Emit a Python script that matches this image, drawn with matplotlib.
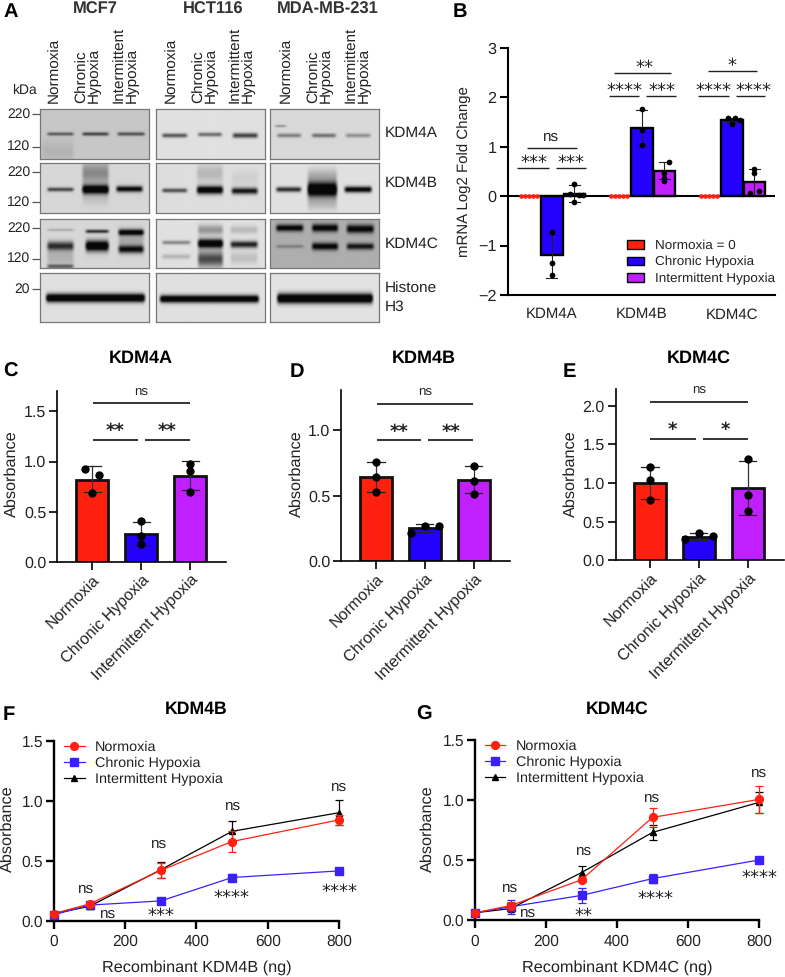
import matplotlib
matplotlib.use("Agg")
import matplotlib.pyplot as plt
from matplotlib.lines import Line2D
from matplotlib.patches import Patch
import numpy as np

plt.rcParams['font.family'] = ['Liberation Sans', 'DejaVu Sans']
plt.rcParams['text.hinting'] = 'none'

W, H = 785, 977
RED = '#ff2010'
BLUE = '#2400ff'
PURPLE = '#c020ff'
LINE_BLUE = '#3a20ff'

# ---- panel A blots: (x0, x1, y, thickness, darkness) as fractions of a panel
blot_x = [(39.5, 148.7), (156, 265), (270, 379)]
blot_y = [(109, 158.7), (163, 213), (218.7, 267.7), (273, 322)]
blot_bg = [[0.78, 0.88, 0.85], [0.84, 0.87, 0.88], [0.84, 0.88, 0.68], [0.88, 0.88, 0.89]]
blot_bands = [
    [
        [(.05, .32, .50, .032, .6), (.37, .64, .50, .035, .72), (.69, .97, .50, .035, .65),
         (.0, .32, .85, .22, .1)],
        [(.04, .30, .53, .042, .65), (.37, .62, .51, .04, .55), (.69, .95, .53, .05, .75)],
        [(.05, .30, .53, .04, .45), (.37, .62, .53, .04, .52), (.68, .94, .53, .04, .36),
         (.03, .16, .34, .022, .38)],
    ],
    [
        [(.05, .32, .53, .04, .72), (.37, .64, .53, .09, 1.3), (.37, .64, .2, .22, .38),
         (.68, .95, .52, .06, 1.05), (.37, .64, .72, .12, .1)],
        [(.04, .30, .55, .042, .68), (.36, .63, .54, .08, 1.2), (.36, .63, .2, .18, .18),
         (.68, .95, .56, .065, .95), (.68, .95, .3, .15, .07)],
        [(.04, .30, .53, .05, .85), (.33, .63, .53, .15, 1.4), (.33, .63, .25, .14, .22),
         (.33, .63, .82, .12, .18), (.67, .95, .53, .06, 1.1)],
    ],
    [
        [(.05, .32, .55, .09, .8), (.05, .32, .22, .025, .22), (.05, .32, .97, .04, .55),
         (.05, .32, .78, .2, .18), (.40, .64, .25, .035, .85), (.40, .64, .55, .11, 1.3),
         (.70, .96, .27, .06, 1.1), (.70, .96, .62, .08, .95), (.70, .96, .42, .2, .22)],
        [(.04, .33, .48, .04, .42), (.04, .33, .77, .05, .2),
         (.37, .63, .50, .09, 1.3), (.37, .63, .22, .10, .35), (.37, .63, .82, .16, .7),
         (.67, .95, .52, .07, .9), (.67, .95, .22, .08, .18), (.67, .95, .8, .12, .15)],
        [(.04, .32, .18, .07, 1.1), (.04, .32, .56, .035, .3),
         (.37, .64, .18, .08, 1.1), (.37, .64, .56, .075, 1.1),
         (.69, .97, .20, .085, 1.1), (.69, .97, .56, .065, .95)],
    ],
    [
        [(.04, .97, .51, .085, 1.4)],
        [(.02, .96, .53, .075, 1.3)],
        [(.05, .96, .52, .10, 1.4)],
    ],
]
lane_names = ['Normoxia', 'Chronic\nHypoxia', 'Intermittent\nHypoxia']
lane_x = [[55, 88, 126], [171.7, 205, 242], [287, 320, 357.7]]
cell_lines = ['MCF7', 'HCT116', 'MDA-MB-231']
cell_line_x = [95, 213, 327.7]
marker_labels = ['220', '120', '220', '120', '220', '120', '20']
marker_y = [114, 146.7, 172, 202, 228, 258.7, 289]
blot_names = ['KDM4A', 'KDM4B', 'KDM4C', 'Histone\nH3']
blot_name_y = [132.7, 183, 244, 298]

# ---- panel B
genes = ['KDM4A', 'KDM4B', 'KDM4C']
b_chronic = [-1.2, 1.38, 1.54]
b_chronic_err = [(-1.65, -0.79), (1.03, 1.75), (1.50, 1.58)]
b_chronic_pts = [[-0.73, -1.35, -1.60], [1.76, 1.35, 1.03], [1.58, 1.58, 1.47, 1.55]]
b_chronic_off = [[0, 0, 0], [0, 0, 0], [-.04, .04, 0, .09]]
b_inter = [0.04, 0.51, 0.29]
b_inter_err = [(-0.12, 0.23), (0.35, 0.69), (0.03, 0.55)]
b_inter_pts = [[0.25, 0.05, 0.03, 0.03, -0.12], [0.69, 0.47, 0.36, 0.31], [0.55, 0.47, 0.07, 0.10]]
b_inter_off = [[0, -.05, .05, .10, 0], [.05, 0, 0, 0], [0, 0, -.05, .05]]
b_normoxia_off = [-.09, -.045, 0, .045, .09]

# ---- panels C, D, E
conditions = ['Normoxia', 'Chronic Hypoxia', 'Intermittent Hypoxia']
bar_colors = [RED, BLUE, PURPLE]
c_means = [0.82, 0.28, 0.86]
c_err = [(0.70, 0.96), (0.17, 0.40), (0.72, 1.01)]
c_pts = [[0.93, 0.87, 0.69], [0.41, 0.26, 0.18], [0.98, 0.91, 0.70]]
c_off = [[-.14, .14, 0], [0, 0, 0], [0, 0, 0]]
d_means = [0.64, 0.25, 0.62]
d_err = [(0.53, 0.76), (0.22, 0.28), (0.52, 0.725)]
d_pts = [[0.76, 0.64, 0.53], [0.215, 0.27, 0.27], [0.725, 0.615, 0.515]]
d_off = [[0, 0, 0], [-.28, 0, .28], [0, 0, 0]]
e_means = [1.00, 0.30, 0.93]
e_err = [(0.79, 1.21), (0.26, 0.35), (0.59, 1.28)]
e_pts = [[1.21, 1.04, 0.78], [0.27, 0.35, 0.31], [1.31, 0.85, 0.64]]
e_off = [[0, 0, 0], [-.28, 0, .28], [0, 0, 0]]

# ---- panels F, G
ng = [0, 100, 300, 500, 800]
f_normoxia = [0.06, 0.14, 0.42, 0.66, 0.84]
f_normoxia_err = [0.01, 0.02, 0.06, 0.09, 0.04]
f_chronic = [0.05, 0.13, 0.165, 0.36, 0.415]
f_chronic_err = [0.01, 0.01, 0.02, 0.03, 0.01]
f_inter = [0.06, 0.12, 0.425, 0.745, 0.90]
f_inter_err = [0.01, 0.02, 0.065, 0.09, 0.105]
g_normoxia = [0.06, 0.12, 0.335, 0.855, 1.005]
g_normoxia_err = [0.01, 0.03, 0.02, 0.08, 0.11]
g_chronic = [0.06, 0.11, 0.205, 0.345, 0.50]
g_chronic_err = [0.01, 0.06, 0.06, 0.04, 0.01]
g_inter = [0.06, 0.095, 0.395, 0.73, 0.98]
g_inter_err = [0.01, 0.02, 0.055, 0.06, 0.085]

fig = plt.figure(figsize=(W / 100, H / 100), dpi=100)


# axes placed by pixel box of the reference
def add_ax(left, right, top, bottom):
    return fig.add_axes([left / W, 1 - bottom / H, (right - left) / W, (bottom - top) / H])


def txt(x, y, s, size=11, **kw):
    kw.setdefault('ha', 'center')
    kw.setdefault('va', 'center')
    return fig.text(x / W, 1 - y / H, s, fontsize=size, **kw)


def hline(x0, x1, y, lw=1.0, color='#222222'):
    fig.add_artist(Line2D([x0 / W, x1 / W], [1 - y / H, 1 - y / H], color=color, lw=lw,
                          solid_capstyle='butt'))


# asterisks are drawn with DejaVu, they sit high in the line so shift down a bit
def stars(x, y, s, bold=False):
    txt(x, y + 3, s, size=13, family='DejaVu Sans', color='#222222',
        fontweight='bold' if bold else 'normal')


def draw_blot(left, right, top, bottom, bands, bg):
    ax = add_ax(left, right, top, bottom)
    h, w = 100, 220
    yy = np.linspace(0, 1, h)[:, None]
    xx = np.linspace(0, 1, w)[None, :]
    dark = np.zeros((h, w))
    for x0, x1, y, t, d in bands:
        edge = np.clip((xx - x0) / .035, 0, 1) * np.clip((x1 - xx) / .035, 0, 1)
        dark = dark + d * np.exp(-((yy - y) / t) ** 2) * edge
    img = bg * (1 - np.clip(dark, 0, 1)) + 0.03 * np.clip(dark, 0, 1)
    ax.imshow(img, cmap='gray', vmin=0, vmax=1, aspect='auto', interpolation='bicubic')
    ax.set_xticks([])
    ax.set_yticks([])
    for s in ax.spines.values():
        s.set_color('#777777')
        s.set_linewidth(0.9)


# ---- A
for r, (top, bottom) in enumerate(blot_y):
    for c, (left, right) in enumerate(blot_x):
        draw_blot(left, right, top, bottom, blot_bands[r][c], blot_bg[r][c])
for name, x in zip(cell_lines, cell_line_x):
    txt(x, 9, name, size=11.9, fontweight='bold', color='#333333')
for xs in lane_x:
    for name, x in zip(lane_names, xs):
        txt(x, 103, name, size=11, rotation=90, va='bottom', linespacing=0.85,
            color='#222222', multialignment='left')
txt(24, 90.5, 'kDa', size=10, color='#222222')
for label, y in zip(marker_labels, marker_y):
    txt(30, y, label, size=10, ha='right', color='#222222')
    hline(32, 39.5, y, lw=0.9, color='#555555')
for name, y in zip(blot_names, blot_name_y):
    txt(385, y, name, size=11.1, ha='left', color='#222222', linespacing=1.35)

# panel letters
for letter, x, y in [('A', 3, 12), ('B', 453, 12), ('C', 3, 372), ('D', 290, 372), ('E', 563, 372),
                     ('F', 3, 715), ('G', 416, 715)]:
    txt(x, y, letter, size=14.5, fontweight='bold', ha='left')

# ---- B
ax = add_ax(507.7, 775, 48, 295)
ax.set_xlim(-0.49, 2.48)
ax.set_ylim(-2, 3)
for i in range(3):
    ax.bar(i - .25, 0, width=.24, color=RED)
    ax.scatter(np.full(5, i - .25) + np.array(b_normoxia_off), np.zeros(5), s=11, color=RED,
               zorder=5, clip_on=False, linewidths=0)
    ax.bar(i, b_chronic[i], width=.24, color=BLUE, edgecolor='black', linewidth=1.7, zorder=2)
    ax.bar(i + .25, b_inter[i], width=.24, color=PURPLE, edgecolor='black', linewidth=1.7, zorder=2)
    for xpos, (lo, hi) in [(i, b_chronic_err[i]), (i + .25, b_inter_err[i])]:
        ax.plot([xpos, xpos], [lo, hi], color='#222222', lw=0.8, zorder=3)
        for v in (lo, hi):
            ax.plot([xpos - .06, xpos + .06], [v, v], color='#222222', lw=0.8, zorder=3)
    ax.scatter(i + np.array(b_chronic_off[i]), b_chronic_pts[i], s=17, color='black', zorder=4,
               clip_on=False, linewidths=0)
    ax.scatter(i + .25 + np.array(b_inter_off[i]), b_inter_pts[i], s=17, color='black', zorder=4,
               clip_on=False, linewidths=0)
ax.axhline(0, color='black', lw=1.5, zorder=3)
for s in ['top', 'right']:
    ax.spines[s].set_visible(False)
for s in ['left', 'bottom']:
    ax.spines[s].set_linewidth(1.5)
ax.set_xticks(range(3))
ax.set_xticklabels(genes, fontsize=10.8, color='#222222')
ax.tick_params(axis='x', length=0, pad=9)
ax.set_yticks([-2, -1, 0, 1, 2, 3])
ax.tick_params(axis='y', length=6, width=1.5, labelsize=11.7, pad=2, labelcolor='#222222')
txt(464.5, 172, 'mRNA Log2 Fold Change', size=10.8, rotation=90, color='#222222')
ax.legend(handles=[Patch(facecolor=c, edgecolor='black', linewidth=1.0) for c in bar_colors],
          labels=['Normoxia = 0', 'Chronic Hypoxia', 'Intermittent Hypoxia'],
          loc='lower left', bbox_to_anchor=((627 - 507.7) / 267.3, (295 - 285) / 247),
          frameon=False, fontsize=9.7, borderpad=0, borderaxespad=0, handlelength=1.27,
          handleheight=0.57, handletextpad=0.8, labelspacing=0.33, labelcolor='#222222')

# significance for B
for x0, x1, y in [(526.7, 576.7, 148.3), (517, 549, 168.3), (555.7, 586, 168.3),
                  (614, 671, 73.3), (608.7, 639, 96.3), (645.7, 675.7, 96.3),
                  (707.7, 757, 71.3), (698.3, 728.7, 96.3), (735.7, 765, 96.3)]:
    hline(x0, x1, y)
txt(551, 136.7, 'ns', size=11, color='#222222')
for x, y, s in [(534, 160, '***'), (570.7, 160, '***'), (644, 65, '**'), (624, 87.7, '****'),
                (661.7, 87.7, '***'), (732, 62.7, '*'), (713.3, 87.7, '****'), (753.3, 87.7, '****')]:
    stars(x, y, s)


# ---- C, D, E
def bar_panel(box, ymax, yticks, means, errs, pts, offs, title, title_x, ylabel_x):
    left, right, top, bottom, x0, step = box
    ax = add_ax(left, right, top, bottom)
    ax.set_xlim((left - x0) / step, (right - x0) / step)
    ax.set_ylim(0, ymax)
    for i in range(3):
        ax.bar(i, means[i], width=.65, color=bar_colors[i], edgecolor='#111111', linewidth=2.0, zorder=2)
        lo, hi = errs[i]
        ax.plot([i, i], [lo, hi], color='#333333', lw=0.9, zorder=3, clip_on=False)
        for v in (lo, hi):
            ax.plot([i - .175, i + .175], [v, v], color='#222222', lw=0.9, zorder=3, clip_on=False)
        ax.scatter(i + np.array(offs[i]), pts[i], s=36, color='black', zorder=4, clip_on=False, linewidths=0)
    for s in ['top', 'right']:
        ax.spines[s].set_visible(False)
    for s in ['left', 'bottom']:
        ax.spines[s].set_linewidth(1.2)
    ax.set_yticks(yticks)
    ax.set_yticklabels([f'{v:.1f}' for v in yticks])
    ax.set_xticks(range(3))
    ax.set_xticklabels(conditions, rotation=45, ha='right', rotation_mode='anchor', fontsize=11.5,
                       color='#222222')
    ax.tick_params(axis='y', length=6, width=1.2, labelsize=11.5, pad=2, labelcolor='#222222')
    ax.tick_params(axis='x', length=6, width=1.2, pad=1.5)
    txt(ylabel_x, 474, 'Absorbance', size=11.7, rotation=90, color='#222222')
    txt(title_x, 358, title, size=13, fontweight='bold')
    return ax


bar_panel((57.3, 226, 390.7, 561.7, 92.3, 49), 1.707, [0, 0.5, 1.0, 1.5],
          c_means, c_err, c_pts, c_off, 'KDM4A', 141, 12)
bar_panel((341.3, 510, 390, 561, 376, 48.85), 1.308, [0, 0.5, 1.0],
          d_means, d_err, d_pts, d_off, 'KDM4B', 424, 297)
bar_panel((615.7, 784, 389.3, 560.3, 650, 48.85), 2.21, [0, 0.5, 1.0, 1.5, 2.0],
          e_means, e_err, e_pts, e_off, 'KDM4C', 699.3, 570.7)

for x0, x1, y in [(92.7, 190, 403), (92.7, 137.7, 439.7), (145, 190, 439.7),
                  (376.7, 473, 404), (376.7, 421, 440.3), (428, 473, 440.3),
                  (650, 747.7, 402.3), (650, 695.7, 438.7), (702.7, 747.7, 438.7)]:
    hline(x0, x1, y, lw=1.2, color='#111111')
for x, y in [(141.5, 391.5), (424.7, 392), (699, 390)]:
    txt(x, y, 'ns', size=9.5, color='#222222')
for x, y, s in [(115, 428, '**'), (167, 428, '**'), (399, 429, '**'), (451, 429, '**'),
                (672.7, 427, '*'), (725, 427, '*')]:
    stars(x, y, s, bold=True)


# ---- F, G
def line_panel(box, normoxia, normoxia_err, chronic, chronic_err, inter, inter_err, gene, title_x, ylabel_x):
    ax = add_ax(*box)
    ax.set_xlim(0, 800)
    ax.set_ylim(0, 1.5)
    ax.errorbar(ng, inter, yerr=inter_err, color='black', marker='^', ms=5, lw=0.9, capsize=3,
                elinewidth=0.9, capthick=0.9, clip_on=False, zorder=3)
    ax.errorbar(ng, chronic, yerr=chronic_err, color=LINE_BLUE, marker='s', ms=5.3, lw=0.9,
                capsize=3, elinewidth=0.9, capthick=0.9, clip_on=False, zorder=4)
    ax.errorbar(ng, normoxia, yerr=normoxia_err, color=RED, marker='o', ms=5.6, lw=0.9,
                capsize=3, elinewidth=0.9, capthick=0.9, clip_on=False, zorder=5)
    for s in ['top', 'right']:
        ax.spines[s].set_visible(False)
    for s in ['left', 'bottom']:
        ax.spines[s].set_linewidth(1.7)
    ax.set_xticks([0, 200, 400, 600, 800])
    ax.set_yticks([0, 0.5, 1.0, 1.5])
    ax.set_yticklabels(['0.0', '0.5', '1.0', '1.5'])
    ax.tick_params(length=6, width=1.7, labelsize=11.2, labelcolor='#222222', pad=2)
    ax.tick_params(axis='x', pad=4)
    handles = [Line2D([], [], color=RED, marker='o', ms=5.6, lw=0.9),
               Line2D([], [], color=LINE_BLUE, marker='s', ms=5.3, lw=0.9),
               Line2D([], [], color='black', marker='^', ms=5, lw=0.9)]
    ax.legend(handles, conditions, loc='upper left',
              bbox_to_anchor=(10 / 285, 1), frameon=False, fontsize=10.4, borderpad=0, borderaxespad=0,
              handlelength=1.42, handletextpad=0.7, labelspacing=0.2, labelcolor='#222222')
    txt(title_x, 967.5, f'Recombinant {gene} (ng)', size=11.7, color='#222222')
    txt(title_x, 709, gene, size=12.7, fontweight='bold')
    txt(ylabel_x, 829, 'Absorbance', size=11.7, rotation=90, color='#222222')


line_panel((54, 339, 740.7, 920.7), f_normoxia, f_normoxia_err, f_chronic, f_chronic_err, f_inter, f_inter_err,
           'KDM4B', 196.5, 8)
line_panel((475, 759, 740, 920), g_normoxia, g_normoxia_err, g_chronic, g_chronic_err, g_inter, g_inter_err,
           'KDM4C', 617, 427.5)

for x, y in [(86, 889), (108, 914), (159, 844), (232.7, 806), (338.7, 786.7),
             (510, 888), (527.7, 913), (584, 850.7), (651.7, 798), (759.3, 772.7)]:
    txt(x, y, 'ns', size=11, color='#222222')
for x, y, s in [(161, 913, '***'), (231, 895, '****'), (339, 889, '****'),
                (583, 913, '**'), (655, 896, '****'), (759, 875, '****')]:
    stars(x, y, s)

fig.savefig('out.png', dpi=100)
